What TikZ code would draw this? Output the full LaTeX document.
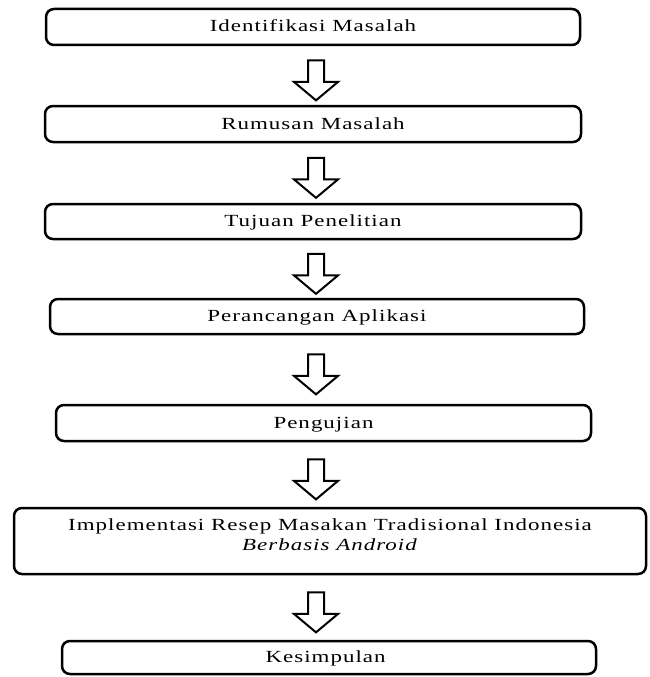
\documentclass[tikz,border=0pt]{standalone}
\usepackage{fontspec}
\setmainfont{Liberation Serif}[FakeStretch=1.35, LetterSpace=6]
\usetikzlibrary{calc,shapes.arrows}

\begin{document}
\begin{tikzpicture}[x=1pt,y=-1pt,
    box/.style={draw, line width=2.5pt, rounded corners=8pt, align=center, inner sep=4pt,
        font=\fontsize{17}{20}\selectfont, text height=12pt, text depth=2pt},
    downarrow/.style={draw, line width=2pt, single arrow, shape border rotate=270,
        minimum height=40pt, inner sep=7pt, single arrow head extend=14pt,
        single arrow tip angle=100}]
    \useasboundingbox (0,0) rectangle (649,677);
    % Steps
    \foreach \n/\x/\y/\w/\h/\t in {
        1/313/27/534/36/Identifikasi Masalah,
        2/313/124/536/36/Rumusan Masalah,
        3/313/221.5/536/35/Tujuan Penelitian,
        4/317/316.5/534/35/Perancangan Aplikasi,
        5/323.5/423/535/36/Pengujian,
        7/329/657.5/534/33/Kesimpulan
    } {
        \node[box, minimum width=\w pt, minimum height=\h pt] (b\n) at (\x,\y) {\t};
    }
    % The long step, two lines
    \node[box, minimum width=632pt, text height=38pt, text depth=20pt] (b6) at (330,541)
        {Implementasi Resep Masakan Tradisional Indonesia\\ \textit{Berbasis Android}};
    % Arrows between the steps
    \coordinate (ax) at (316,0);
    \foreach \i/\j in {1/2,2/3,3/4,4/5,5/6,6/7} {
        \node[downarrow] (a\i) at ($(ax |- b\i.south)!0.5!(ax |- b\j.north)+(0,1.5)$) {};
    }
\end{tikzpicture}
\end{document}
